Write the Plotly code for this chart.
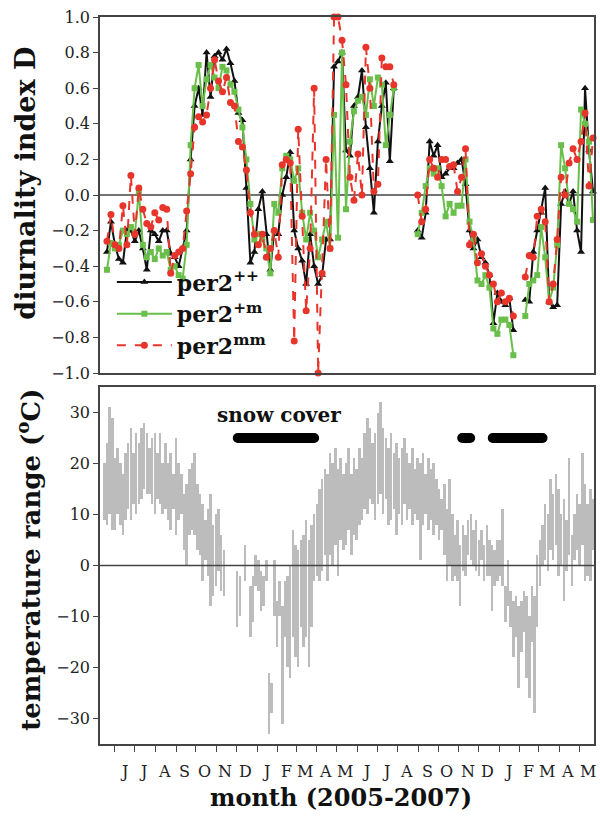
import numpy as np
import pandas as pd
import plotly.graph_objects as go

# ---------------- data: diurnality index D (samples every 6 days, 3 segments) ----------------
seg_starts = ["2005-05-20", "2006-08-31", "2007-02-09"]
seg_lengths = [73, 25, 18]

per2_pp = [
    -0.32, -0.15, -0.28, -0.36, -0.38, -0.20, -0.20, -0.26, -0.20, -0.30,
    -0.42, -0.20, -0.22, -0.26, -0.20, -0.20, -0.33, -0.35, -0.40, -0.30,
    -0.20, 0.20, 0.50, 0.60, 0.45, 0.80, 0.55, 0.78, 0.80, 0.76,
    0.82, 0.74, 0.64, 0.46, 0.42, 0.04, -0.38, -0.32, -0.08, 0.02,
    -0.22, -0.42, -0.20, -0.22, 0.00, 0.10, 0.24, -0.20, -0.30, -0.37,
    -0.50, -0.22, -0.40, -0.50, -0.45, -0.25, -0.25, 0.72, 0.75, 0.80,
    0.25, 0.22, 0.50, 0.55, 0.70, 0.38, 0.15, -0.10, 0.30, 0.50,
    0.63, 0.19, 0.60,
    -0.20, -0.24, -0.10, 0.30, 0.22, 0.28, 0.10, 0.12, 0.15, 0.15,
    0.18, 0.20, 0.06, -0.20, -0.30, -0.25, -0.35, -0.38, -0.45, -0.72,
    -0.55, -0.60, -0.62, -0.58, -0.76,
    -0.59, -0.60, -0.32, -0.20, -0.10, 0.04, -0.60, -0.63, -0.62, -0.05,
    0.02, -0.05, 0.02, -0.20, -0.32, 0.60, 0.25, 0.02,
]
per2_pm = [
    -0.42, -0.27, -0.30, -0.28, -0.20, -0.22, -0.18, -0.22, 0.02, -0.28,
    -0.35, -0.32, -0.36, -0.30, -0.34, -0.32, -0.42, -0.40, -0.45, -0.47,
    -0.28, 0.28, 0.60, 0.73, 0.50, 0.65, 0.73, 0.66, 0.60, 0.72,
    0.70, 0.62, 0.58, 0.48, 0.38, 0.20, -0.05, -0.25, -0.22, -0.25,
    -0.30, -0.44, -0.05, -0.10, 0.15, 0.22, 0.20, 0.08, 0.15, -0.10,
    -0.25, -0.10, -0.20, -0.35, -0.25, -0.15, -0.30, 0.45, -0.24, 0.80,
    -0.08, 0.30, 0.47, 0.53, 0.55, 0.45, 0.65, 0.50, 0.66, 0.62,
    0.28, 0.45, 0.60,
    -0.22, -0.10, 0.05, 0.15, 0.12, 0.15, 0.05, -0.12, -0.05, -0.10,
    -0.06, -0.06, 0.20, -0.15, -0.25, -0.48, -0.50, -0.45, -0.52, -0.75,
    -0.78, -0.70, -0.70, -0.73, -0.90,
    -0.68, -0.50, -0.48, -0.45, -0.18, -0.35, -0.60, -0.52, -0.28, 0.28,
    0.15, -0.05, -0.08, -0.15, 0.48, 0.40, 0.30, -0.14,
]
per2_mm = [
    -0.26, -0.11, -0.28, -0.30, -0.06, -0.28, 0.11, -0.22, 0.04, -0.08,
    -0.16, -0.18, -0.10, -0.14, -0.07, -0.08, -0.44, -0.34, -0.32, -0.30,
    -0.09, 0.12, 0.38, 0.44, 0.41, 0.45, 0.60, 0.76, 0.64, 0.58,
    0.66, 0.52, 0.50, 0.30, 0.27, 0.14, -0.10, -0.22, -0.28, -0.22,
    -0.35, -0.30, -0.20, -0.35, 0.17, 0.20, 0.18, -0.82, 0.37, -0.12,
    -0.65, -0.30, 0.60, -1.00, -0.44, 0.20, -0.30, 1.00, 1.00, 0.87,
    0.62, 0.10, -0.03, 0.23, 0.00, 0.83, 0.60, 0.02, 0.06, 0.77,
    0.72, 0.72, 0.62,
    0.00, -0.15, -0.08, 0.20, 0.15, 0.10, 0.20, 0.20, 0.16, 0.17,
    0.02, 0.10, 0.26, -0.28, -0.22, -0.38, -0.33, -0.40, -0.45, -0.50,
    -0.60, -0.55, -0.60, -0.58, -0.68,
    -0.46, -0.34, -0.35, -0.12, -0.08, -0.15, -0.60, -0.50, -0.25, 0.10,
    0.00, 0.18, 0.26, 0.20, 0.30, 0.46, 0.05, 0.32,
]

# ---------------- data: daily temperature range (4-day bins) ----------------
temp_start = "2005-05-16"
temp_step_days = 4
temp_max = [
    20, 24, 31, 29, 21, 23, 20, 18, 22, 24, 27, 22, 26, 24, 27, 28, 26, 23, 25, 26,
    22, 26, 20, 24, 20, 22, 18, 25, 20, 18, 14, 16, 19, 20, 22, 16, 14, 12, 9, 11,
    14, 8, 10, 11, 6, 3, None, None, None, None, -1, -2, None, 4, None, -4, -2, 2, 1, -1,
    -2, 1, -21, -23, 1, -7, -3, -8, -3, -2, 0, 7, 4, 3, 5, 6, 9, 5, 8, 10,
    12, 15, 17, 19, 18, 22, 20, 23, 19, 21, 18, 20, 23, 18, 21, 19, 23, 21, 26, 29,
    27, 24, 26, 30, 32, 27, 25, 23, 26, 22, 24, 21, 23, 25, 22, 20, 23, 19, 21, 20,
    22, 18, 21, 19, 20, 17, 15, 13, 16, 11, 17, 10, 6, 9, 4, 8, 6, 9, 10, 7,
    9, 5, 7, 4, 8, 5, 4, 3, 5, 5, 11, -4, 1, -5, -7, -6, -8, -7, -5, -6,
    -10, -4, -6, 2, 5, 8, 12, 10, 17, 14, 18, 15, 10, 13, 9, 21, 6, 10, 14, 12,
    22, 16, 12, 15, 13,
]
temp_min = [
    9, 8, 10, 7, 7, 10, 8, 6, 9, 11, 9, 12, 10, 12, 13, 15, 14, 14, 12, 10,
    13, 12, 10, 11, 9, 7, 11, 6, 9, 10, 3, 0, 6, 7, 6, 3, 2, -3, 1, -2,
    -8, -6, -4, -1, -5, -6, None, None, None, None, -12, -10, None, -3, None, -14, -11, -4, -5, -9,
    -8, -3, -33, -29, -10, -16, -10, -31, -14, -20, -22, -14, -18, -20, -12, -16, -14, -20, -12, -3,
    -2, -3, -1, 2, -3, 2, 0, 4, -2, 5, 3, 4, 7, 2, 6, 5, 8, 9, 11, 10,
    13, 12, 9, 12, 14, 10, 13, 8, 9, 11, 6, 10, 8, 12, 9, 11, 8, 10, 9, 1,
    8, 10, 7, 9, 6, 8, 5, 7, 2, -3, 0, -3, -2, -3, -8, -1, -2, 2, 1, 0,
    -1, -2, 1, -3, -2, -2, -9, -4, -3, -2, -4, -11, -8, -12, -18, -14, -24, -17, -13, -22,
    -26, -15, -29, -12, -4, 0, 1, -1, 3, 1, 4, -2, 0, -7, -1, 2, -4, 1, 3, 0,
    4, -3, -2, -3, 3,
]

# ---------------- data: snow cover periods ----------------
snow_start = ["2005-12-03", "2006-11-06", "2006-12-22"]
snow_end = ["2006-03-28", "2006-11-18", "2007-03-07"]
snow_level = 25

# ---------------- axis labels ----------------
month_letters = ["J", "J", "A", "S", "O", "N", "D", "J", "F", "M", "A", "M",
                 "J", "J", "A", "S", "O", "N", "D", "J", "F", "M", "A", "M"]
x_range = ["2005-05-09 12:00", "2007-05-23 12:00"]
d_ticks = [-1.0, -0.8, -0.6, -0.4, -0.2, 0.0, 0.2, 0.4, 0.6, 0.8, 1.0]
t_ticks = [-30, -20, -10, 0, 10, 20, 30]

# ---------------- build ----------------
def with_gaps(vals):
    out, i = [], 0
    for k, n in enumerate(seg_lengths):
        if k:
            out.append(None)
        out += list(vals[i:i + n])
        i += n
    return out

d_x = []
for k, (s, n) in enumerate(zip(seg_starts, seg_lengths)):
    if k:
        d_x.append(None)
    d_x += list(pd.date_range(s, periods=n, freq="6D").strftime("%Y-%m-%d"))

t_dates = pd.date_range(temp_start, periods=len(temp_max), freq=f"{temp_step_days}D")
tmax = np.array([np.nan if v is None else v for v in temp_max], dtype=float)
tmin = np.array([np.nan if v is None else v for v in temp_min], dtype=float)

month_starts = pd.date_range("2005-06-01", periods=len(month_letters) + 1, freq="MS")
label_pos = [(m + pd.Timedelta(days=13)).strftime("%Y-%m-%d") for m in month_starts[:-1]]

SERIF = "DejaVu Serif"
fig = go.Figure()

# temperature ranges
fig.add_trace(go.Bar(
    x=t_dates, y=tmax - tmin, base=tmin,
    width=temp_step_days * 86400000 * 0.95,
    marker=dict(color="#bcbcbc", line=dict(width=0)),
    xaxis="x2", yaxis="y2", showlegend=False, hoverinfo="skip"))

# snow cover
sx, sy = [], []
for s, e in zip(snow_start, snow_end):
    sx += [s, e, None]
    sy += [snow_level, snow_level, None]
fig.add_trace(go.Scatter(
    x=sx, y=sy, mode="lines+markers", line=dict(color="black", width=10),
    marker=dict(color="black", size=10), xaxis="x2", yaxis="y2",
    showlegend=False, hoverinfo="skip"))

# D series
series = [
    ("<b>per2<sup>++</sup></b>", per2_pp, "#111111", "triangle-up", 7, "solid"),
    ("<b>per2<sup>+m</sup></b>", per2_pm, "#6abf4b", "square", 6, "solid"),
    ("<b>per2<sup>mm</sup></b>", per2_mm, "#e8352b", "circle", 7, "dash"),
]
for name, vals, col, sym, sz, dash in series:
    fig.add_trace(go.Scatter(
        x=d_x, y=with_gaps(vals), mode="lines+markers", name=name,
        line=dict(color=col, width=2, dash=dash),
        marker=dict(color=col, symbol=sym, size=sz),
        cliponaxis=False, xaxis="x", yaxis="y"))

axis_common = dict(showline=True, mirror=True, linecolor="#444", linewidth=1.5,
                   showgrid=False, zeroline=False)
tickfont = dict(family=SERIF, size=16, color="#222")

annotations = [
    dict(text="<b>snow cover</b>", x="2006-02-03", y=29.6, xref="x2", yref="y2",
         showarrow=False, font=dict(family=SERIF, size=20, color="#111")),
    dict(text="<b>diurnality index D</b>", x=-0.150, y=0.772, xref="paper", yref="paper",
         textangle=-90, showarrow=False, xanchor="center", yanchor="middle",
         font=dict(family=SERIF, size=27, color="#111")),
    dict(text="<b>temperature range (<sup>o</sup>C)</b>", x=-0.143, y=0.254,
         xref="paper", yref="paper", textangle=-90, showarrow=False,
         xanchor="center", yanchor="middle",
         font=dict(family=SERIF, size=26, color="#111")),
    dict(text="<b>month (2005-2007)</b>", x=0.488, y=-0.073, xref="paper", yref="paper",
         showarrow=False, xanchor="center", yanchor="middle",
         font=dict(family=SERIF, size=24, color="#111")),
]
for xm, lab in zip(label_pos, month_letters):
    annotations.append(dict(text=lab, x=xm, y=-0.0385, xref="x2", yref="paper",
                            showarrow=False, xanchor="center", yanchor="middle",
                            font=dict(family=SERIF, size=16, color="#222")))

fig.update_layout(
    width=600, height=821,
    margin=dict(l=100, r=4, t=17, b=77),
    paper_bgcolor="white", plot_bgcolor="white",
    bargap=0,
    xaxis=dict(domain=[0, 1], anchor="y", type="date", range=x_range,
               showticklabels=False, ticks="", **axis_common),
    yaxis=dict(domain=[0.5103, 1], anchor="x", range=[-1, 1], tickvals=d_ticks,
               tickformat=".1f", ticks="outside", ticklen=5, tickcolor="#444",
               tickfont=tickfont, **axis_common),
    xaxis2=dict(domain=[0, 1], anchor="y2", type="date", range=x_range,
                tickvals=list(month_starts[:-1].strftime("%Y-%m-%d")), ticks="outside", ticklen=6,
                tickcolor="#444", showticklabels=False, **axis_common),
    yaxis2=dict(domain=[0, 0.491], anchor="x2", range=[-35, 35], tickvals=t_ticks,
                ticks="outside", ticklen=5, tickcolor="#444",
                tickfont=tickfont, **axis_common),
    legend=dict(x=0.024, y=0.664, xanchor="left", yanchor="top",
                bgcolor="rgba(0,0,0,0)", font=dict(family=SERIF, size=22, color="#111"),
                tracegroupgap=0, itemwidth=55),
    shapes=[
        dict(type="line", xref="x domain", yref="y", x0=0, x1=1, y0=0, y1=0,
             line=dict(color="#444", width=1.5), layer="below"),
        dict(type="line", xref="x2 domain", yref="y2", x0=0, x1=1, y0=0, y1=0,
             line=dict(color="#444", width=1.5), layer="above"),
    ],
    annotations=annotations,
)

fig.write_html("out.html", config={"displayModeBar": False},
               post_script="document.body.style.margin='0px';")
